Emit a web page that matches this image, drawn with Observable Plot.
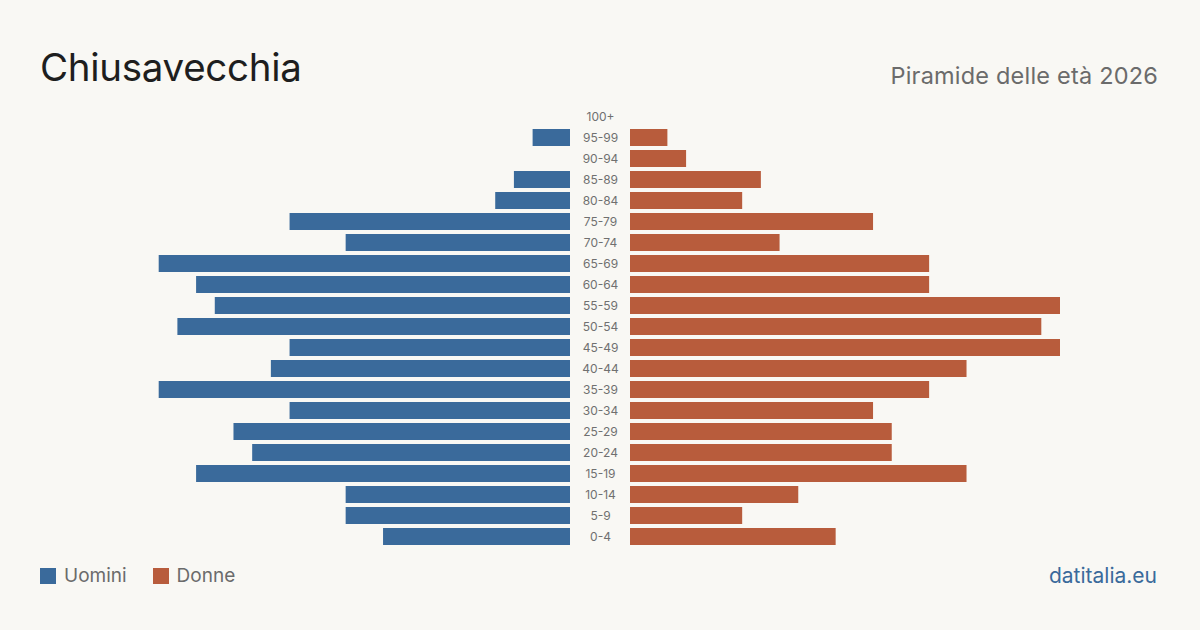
<!DOCTYPE html>
<html>
<head>
<meta charset="utf-8">
<script src="https://cdn.jsdelivr.net/npm/d3@7"></script>
<script src="https://cdn.jsdelivr.net/npm/@observablehq/plot@0.6"></script>
<style>
  html, body { margin: 0; padding: 0; }
  body { width: 1200px; height: 630px; background: #f9f8f4; font-family: Inter, "Liberation Sans", sans-serif; position: relative; overflow: hidden; }
  #title { position: absolute; left: 40px; top: 41px; font-size: 38.5px; color: #1e1e1e; letter-spacing: -0.3px; line-height: 52px; }
  #subtitle { position: absolute; right: 42px; top: 61px; font-size: 23.5px; color: #6b6b6b; line-height: 30px; letter-spacing: 0.2px; }
  #left { position: absolute; left: 0; top: 100px; }
  #right { position: absolute; left: 570px; top: 100px; }
  #legend { position: absolute; left: 40px; top: 564px; font-size: 19px; color: #6b6b6b; display: flex; align-items: center; line-height: 24px; }
  .sw { display: inline-block; width: 16px; height: 16px; margin-right: 8px; }
  .item { display: flex; align-items: center; margin-right: 26px; }
  #credit { position: absolute; right: 43px; top: 563px; font-size: 21px; color: #3a6a9b; line-height: 26px; }
</style>
</head>
<body>
<div id="title">Chiusavecchia</div>
<div id="subtitle">Piramide delle età 2026</div>
<div id="left"></div>
<div id="right"></div>
<div id="legend">
  <span class="item"><span class="sw" style="background:#3a6a9b"></span>Uomini</span>
  <span class="item"><span class="sw" style="background:#b85c3c"></span>Donne</span>
</div>
<div id="credit">datitalia.eu</div>
<script>
const ageGroups = ["100+","95-99","90-94","85-89","80-84","75-79","70-74","65-69","60-64","55-59","50-54","45-49","40-44","35-39","30-34","25-29","20-24","15-19","10-14","5-9","0-4"];
const maleValues = [0,2,0,3,4,15,12,22,20,19,21,15,16,22,15,18,17,20,12,12,10];
const femaleValues = [0,2,3,7,6,13,8,16,16,23,22,23,18,16,13,14,14,18,9,6,11];
const maxValue = 23;

const maleData = ageGroups.map((a, i) => ({age: a, value: maleValues[i]}));
const femaleData = ageGroups.map((a, i) => ({age: a, value: femaleValues[i]}));

const common = {
  height: 460,
  marginTop: 6.5,
  marginBottom: 12.5,
  y: {domain: ageGroups, paddingInner: 0.19, paddingOuter: 0.095, axis: null},
  style: {background: "transparent", fontFamily: "Inter, 'Liberation Sans', sans-serif"}
};

const left = Plot.plot({
  ...common,
  width: 570,
  marginLeft: 140,
  marginRight: 0,
  x: {domain: [0, maxValue], reverse: true, axis: null},
  marks: [
    Plot.barX(maleData, {x: "value", y: "age", fill: "#3a6a9b"})
  ]
});
document.getElementById("left").appendChild(left);

const right = Plot.plot({
  ...common,
  width: 630,
  marginLeft: 60,
  marginRight: 140,
  x: {domain: [0, maxValue], axis: null},
  marks: [
    Plot.barX(femaleData, {x: "value", y: "age", fill: "#b85c3c"}),
    Plot.text(ageGroups, {x: 0, y: d => d, text: d => d, dx: -30, textAnchor: "middle", fill: "#707070", fontSize: 12})
  ]
});
document.getElementById("right").appendChild(right);
</script>
</body>
</html>
